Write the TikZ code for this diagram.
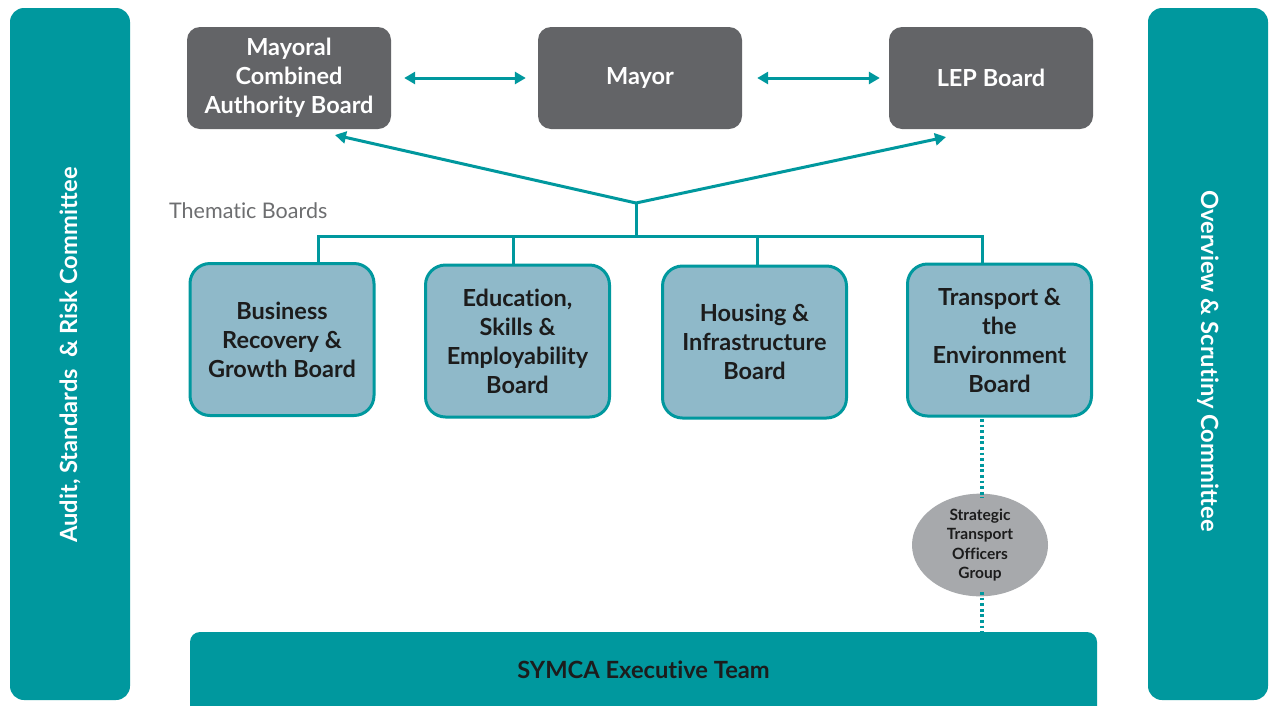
\documentclass[tikz,border=0pt]{standalone}
\usepackage{fontspec}
\setmainfont{Lato}[Ligatures={NoCommon}]
\usetikzlibrary{shapes.geometric,arrows.meta}
\definecolor{teal1}{HTML}{00989E}
\definecolor{dgray}{HTML}{636467}
\definecolor{lblue}{HTML}{8FB9C9}
\definecolor{egray}{HTML}{A7A9AC}
\definecolor{txt}{HTML}{1C1C1C}
\definecolor{tgray}{HTML}{6D6E70}
\tikzset{
  sidebar/.style={fill=teal1, rounded corners=14pt, draw=none, minimum width=120pt, inner sep=0pt},
  sidetext/.style={text=white, font=\bfseries\fontsize{23.7}{27}\selectfont},
  topbox/.style={fill=dgray, rounded corners=13pt, minimum width=204pt, minimum height=102pt, align=center, text=white, font=\bfseries\fontsize{23.5}{29}\selectfont, inner sep=0pt},
  board/.style={fill=lblue, draw=teal1, line width=3pt, rounded corners=20pt, minimum width=184pt, minimum height=152pt, align=center, text=txt, font=\bfseries\fontsize{23.5}{29}\selectfont, inner sep=0pt},
  conn/.style={draw=teal1, line width=3pt},
  arr/.style={conn, -{Triangle[width=12pt,length=11pt]}},
  dbl/.style={conn, {Triangle[width=12pt,length=11pt]}-{Triangle[width=12pt,length=11pt]}},
  dots/.style={draw=teal1, line width=3.5pt, dash pattern=on 2.8pt off 2.8pt},
  group/.style={ellipse, fill=egray, minimum width=136pt, minimum height=94pt, inner sep=0pt, align=center, text=txt, font=\bfseries\fontsize{15.5}{19.5}\selectfont},
  exec/.style={fill=teal1, rounded corners=10pt, minimum width=907pt, minimum height=84pt, inner sep=0pt}
}
\begin{document}
\begin{tikzpicture}[x=1pt,y=-1pt]
\useasboundingbox (0,0) rectangle (1273,705);
\clip (0,0) rectangle (1273,705);
\fill[white] (0,0) rectangle (1273,705);
% side bars
\node[sidebar, minimum height=692pt] (left) at (70,354) {};
\node[sidetext, rotate=90] (lefttext) at (70,355) {Audit, Standards\ \ \& Risk Committee};
\node[sidebar, minimum height=692pt] (right) at (1208,354) {};
\node[sidetext, rotate=-90] (righttext) at (1208,361) {Overview \& Scrutiny Committee};
% top boxes
\node[topbox] (mca) at (289,78) {Mayoral\\Combined\\Authority Board};
\node[topbox] (mayor) at (640,78) {\raisebox{-2pt}{Mayor}};
\node[topbox] (lep) at (991,78) {LEP Board};
\draw[dbl, shorten <=13pt, shorten >=12pt] (mca.east) -- (mayor.west);
\draw[dbl, shorten <=15pt, shorten >=9pt] (mayor.east) -- (lep.west);
% thematic
\node[anchor=west, text=tgray, font=\fontsize{21.5}{25}\selectfont, inner sep=0pt] (them) at (169,211) {Thematic Boards};
\node[board] (b1) at (282,339.5) {Business\\Recovery \&\\Growth Board};
\node[board] (b2) at (517.5,341) {Education,\\Skills \&\\Employability\\Board};
\node[board] (b3) at (754.5,342) {Housing \&\\Infrastructure\\Board};
\node[board] (b4) at (999.5,340) {Transport \&\\the\\Environment\\Board};
\coordinate (j) at (636,203);
\coordinate (jb) at (636,236);
\coordinate (amca) at (335,135);
\coordinate (alep) at (946,137);
\draw[arr] (j) -- (amca);
\draw[arr] (j) -- (alep);
\draw[conn] (j) -- (jb);
\coordinate (d1) at (318,236);
\coordinate (d2) at (513,236);
\coordinate (d3) at (757,236);
\coordinate (d4) at (982,236);
\draw[conn, line cap=rect] (d1) -- (d4);
\draw[conn] (d1) -- (d1 |- b1.north);
\draw[conn] (d2) -- (d2 |- b2.north);
\draw[conn] (d3) -- (d3 |- b3.north);
\draw[conn] (d4) -- (d4 |- b4.north);
% strategic group
\node[group] (stog) at (980,545) {Strategic\\Transport\\Officers\\Group};
\node[exec] (exe) at (643.5,674) {};
\node[text=txt, font=\bfseries\fontsize{23.7}{27}\selectfont] (exetext) at (643.5,670) {SYMCA Executive Team};
\coordinate (s1) at (982,419);
\coordinate (s2) at (982,498);
\coordinate (s3) at (982,592);
\coordinate (s4) at (982,632);
\draw[dots] (s1) -- (s2);
\draw[dots] (s3) -- (s4);
\end{tikzpicture}
\end{document}
